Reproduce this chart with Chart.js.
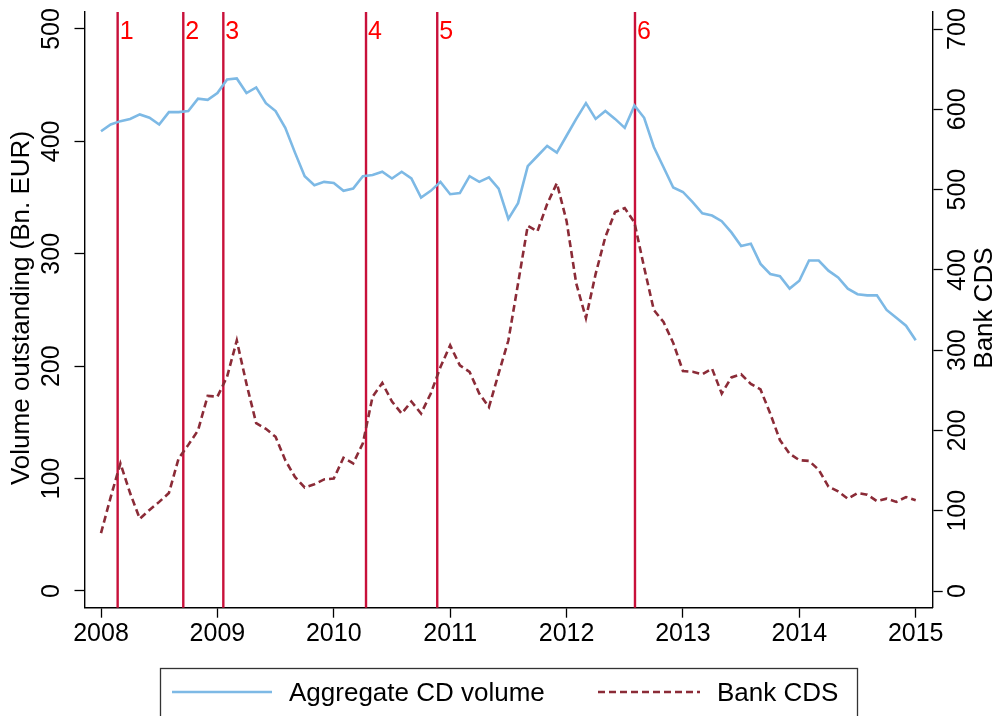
<!DOCTYPE html>
<html>
<head>
<meta charset="utf-8">
<script src="https://cdn.jsdelivr.net/npm/chart.js@4"></script>
<style>
  html, body { margin: 0; padding: 0; background: #fff; }
  canvas { display: block; }
</style>
</head>
<body>
<canvas id="cdChart" width="1001" height="716"></canvas>
<script>
// monthly observations, Jan 2008 .. Jan 2015 (85 months)
const months = Array.from({ length: 85 }, (_, i) => 2008 + i / 12);

// Aggregate CD volume, Bn. EUR (left axis)
const cdVolume = [
  409, 415, 418, 420, 424, 421, 415, 426, 426, 427, 438, 437,
  443, 455, 456, 443, 448, 434, 427, 412, 390, 369, 361, 364,
  363, 356, 358, 369, 370, 373, 367, 373, 367, 350, 356, 364,
  353, 354, 369, 364, 368, 358, 331, 345, 378, 387, 396, 390,
  405, 420, 434, 420, 427, 420, 412, 432, 421, 395, 377, 359,
  355, 346, 336, 334, 329, 319, 307, 309, 291, 282, 280, 269,
  276, 294, 294, 285, 279, 269, 264, 263, 263, 250, 243, 236,
  223
];

// Bank CDS (right axis)
const bankCds = [
  72, 117, 159, 122, 90, 101, 111, 122, 165, 182, 200, 243,
  242, 267, 312, 258, 209, 202, 192, 163, 142, 129, 133, 139,
  140, 166, 159, 184, 242, 259, 236, 221, 236, 221, 246, 279,
  306, 281, 273, 246, 229, 271, 312, 383, 455, 448, 482, 508,
  461, 383, 340, 395, 441, 472, 477, 459, 403, 350, 335, 309,
  274, 273, 270, 277, 246, 266, 270, 258, 251, 221, 188, 171,
  163, 162, 151, 130, 124, 115, 122, 120, 112, 115, 111, 117,
  113
];

// event markers (decimal year) and their labels
const eventDates = [2008.143, 2008.707, 2009.051, 2010.277, 2010.889, 2012.588];
const eventLabels = ["1", "2", "3", "4", "5", "6"];

const yearTicks = [2008, 2009, 2010, 2011, 2012, 2013, 2014, 2015];
const leftTicks = [0, 100, 200, 300, 400, 500];
const rightTicks = [0, 100, 200, 300, 400, 500, 600, 700];

const FONT = "'Liberation Sans', Arial, Helvetica, sans-serif";
const BLUE = "#7db9e5";
const MAROON = "#8b2b37";
const EVENT_RED = "#c8103a";

const xy = (vals) => vals.map((v, i) => ({ x: months[i], y: v }));

const overlay = {
  id: "overlay",
  beforeDatasetsDraw(chart) {
    const { ctx, chartArea, scales } = chart;
    ctx.save();
    eventDates.forEach((d, i) => {
      const px = scales.x.getPixelForValue(d);
      ctx.strokeStyle = EVENT_RED;
      ctx.lineWidth = 2.4;
      ctx.beginPath();
      ctx.moveTo(px, chartArea.top);
      ctx.lineTo(px, chartArea.bottom);
      ctx.stroke();
      ctx.fillStyle = "#ff0000";
      ctx.font = "25px " + FONT;
      ctx.textAlign = "left";
      ctx.textBaseline = "alphabetic";
      ctx.fillText(eventLabels[i], px + 2, 39);
    });
    ctx.restore();
  },
  afterDraw(chart) {
    const { ctx, scales } = chart;
    ctx.save();
    ctx.fillStyle = "#000";
    ctx.textAlign = "center";
    ctx.textBaseline = "middle";

    const vText = (txt, x, y, size) => {
      ctx.save();
      ctx.translate(x, y);
      ctx.rotate(-Math.PI / 2);
      ctx.font = size + "px " + FONT;
      ctx.fillText(txt, 0, 0);
      ctx.restore();
    };

    leftTicks.forEach((v) => vText(String(v), 52, scales.y.getPixelForValue(v), 25));
    rightTicks.forEach((v) => vText(String(v), 958, scales.y2.getPixelForValue(v), 25));
    vText("Volume outstanding (Bn. EUR)", 21.5, 308, 26);
    vText("Bank CDS", 985, 308, 26);

    // legend box
    ctx.strokeStyle = "#333";
    ctx.lineWidth = 1.3;
    ctx.strokeRect(160.5, 668.5, 697, 60);

    ctx.lineWidth = 2.6;
    ctx.strokeStyle = BLUE;
    ctx.beginPath();
    ctx.moveTo(172, 692);
    ctx.lineTo(272, 692);
    ctx.stroke();

    ctx.strokeStyle = MAROON;
    ctx.setLineDash([7, 4]);
    ctx.beginPath();
    ctx.moveTo(598, 692);
    ctx.lineTo(700, 692);
    ctx.stroke();
    ctx.setLineDash([]);

    ctx.font = "26px " + FONT;
    ctx.textAlign = "left";
    ctx.textBaseline = "alphabetic";
    ctx.fillText("Aggregate CD volume", 289, 701);
    ctx.fillText("Bank CDS", 717, 701);
    ctx.restore();
  },
};

const axisGrid = {
  drawOnChartArea: false,
  drawTicks: true,
  tickLength: 10,
  tickColor: "#000",
  tickWidth: 1.3,
};
const axisBorder = { display: true, color: "#000", width: 1.4 };

new Chart(document.getElementById("cdChart"), {
  type: "line",
  data: {
    datasets: [
      {
        label: "Aggregate CD volume",
        data: xy(cdVolume),
        yAxisID: "y",
        borderColor: BLUE,
        borderWidth: 2.6,
        pointRadius: 0,
        fill: false,
        tension: 0,
      },
      {
        label: "Bank CDS",
        data: xy(bankCds),
        yAxisID: "y2",
        borderColor: MAROON,
        borderWidth: 2.6,
        borderDash: [7, 4],
        pointRadius: 0,
        fill: false,
        tension: 0,
      },
    ],
  },
  options: {
    responsive: false,
    animation: false,
    layout: { padding: { top: 12, left: 0, right: 0, bottom: 0 } },
    plugins: {
      legend: { display: false },
      tooltip: { enabled: false },
    },
    scales: {
      x: {
        type: "linear",
        min: 2007.8582,
        max: 2015.146,
        afterBuildTicks: (s) => { s.ticks = yearTicks.map((v) => ({ value: v })); },
        afterFit: (s) => { s.height = 108.3; },
        grid: axisGrid,
        border: axisBorder,
        ticks: {
          padding: 1,
          color: "#000",
          font: { family: FONT, size: 25 },
          callback: (v) => String(v),
        },
      },
      y: {
        position: "left",
        min: -14.86,
        max: 515.1,
        afterBuildTicks: (s) => { s.ticks = leftTicks.map((v) => ({ value: v })); },
        afterFit: (s) => { s.width = 84.5; },
        grid: axisGrid,
        border: axisBorder,
        ticks: { display: false },
      },
      y2: {
        position: "right",
        min: -20.8,
        max: 721.2,
        afterBuildTicks: (s) => { s.ticks = rightTicks.map((v) => ({ value: v })); },
        afterFit: (s) => { s.width = 68.3; },
        grid: axisGrid,
        border: axisBorder,
        ticks: { display: false },
      },
    },
  },
  plugins: [overlay],
});
</script>
</body>
</html>
